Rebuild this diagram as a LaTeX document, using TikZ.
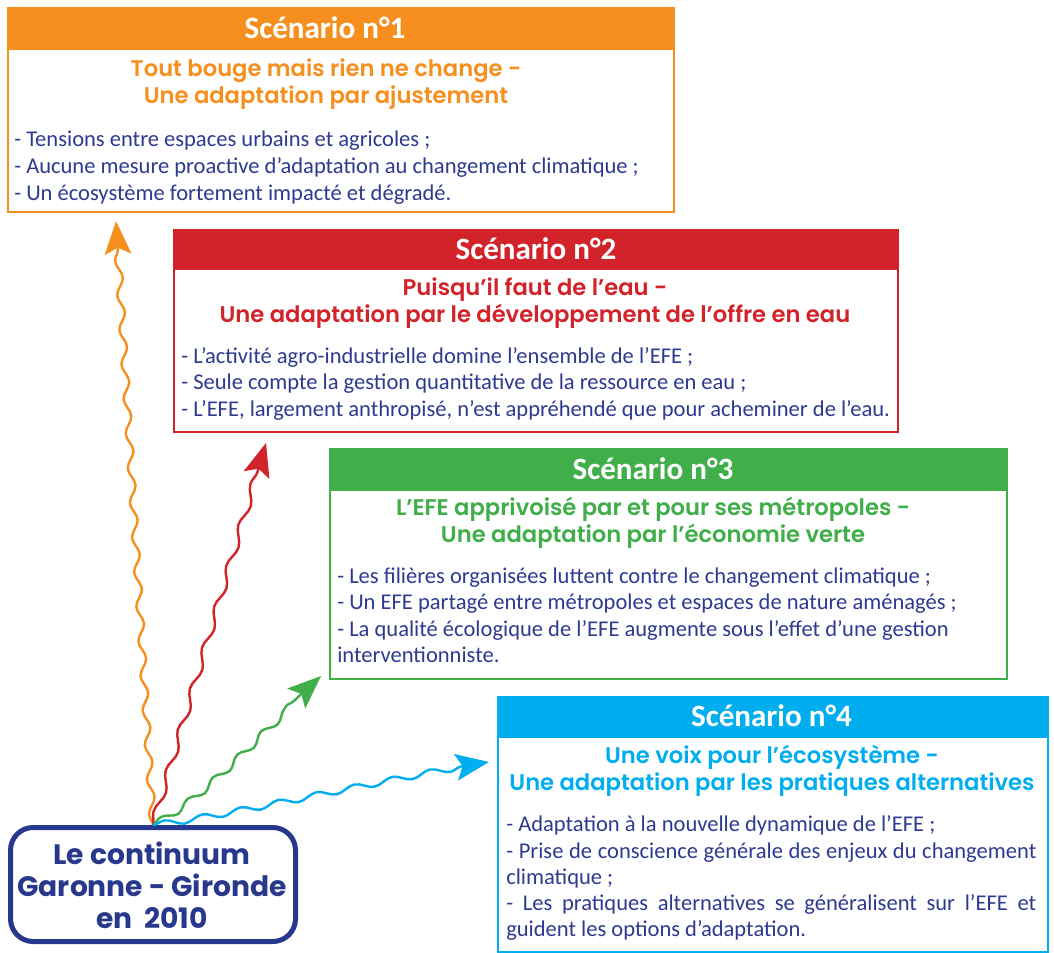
\documentclass[tikz,border=0pt]{standalone}
\usepackage{fontspec}
\setmainfont{Carlito}
\newfontfamily\bodyf{Carlito}
\newfontfamily\popf{Poppins}[BoldFont={Poppins SemiBold}]
\newfontfamily\popB{Poppins}
\usetikzlibrary{arrows.meta,decorations.pathmorphing}
\definecolor{corange}{RGB}{247,143,30}
\definecolor{cred}{RGB}{210,35,42}
\definecolor{cgreen}{RGB}{64,174,73}
\definecolor{cblue}{RGB}{0,174,239}
\definecolor{ctext}{RGB}{46,58,145}
\definecolor{cnavy}{RGB}{40,56,140}
\tikzset{
  frame/.style={draw=#1, line width=1.5pt, anchor=north west, inner sep=0pt, fill=white},
  hdr/.style={fill=#1, draw=#1, line width=1.5pt, anchor=north west, inner sep=0pt},
  ttl/.style={text=white, inner sep=0pt, font=\bfseries\fontsize{23.3}{26}\selectfont},
  sub/.style={text=#1, font=\popf\bfseries\fontsize{17}{20}\selectfont, anchor=base, inner sep=0pt},
  body/.style={text=ctext, font=\bodyf\fontsize{16.9}{20}\selectfont, anchor=base west, inner sep=0pt},
  stxt/.style={text=cnavy, font=\popB\bfseries\fontsize{21.1}{24}\selectfont, anchor=base, inner sep=0pt},
  wave/.style={draw=#1, line width=1.8pt, decorate,
    -{Stealth[length=25pt, width=20pt, inset=5pt]}},
}
\begin{document}
\begin{tikzpicture}[x=0.75pt,y=-0.75pt]
\useasboundingbox (0,0) rectangle (1054,953);

% ---------- Scenario 1
\node[frame=corange, minimum width=499.5pt, minimum height=153pt] (f1) at (7,7) {};
\node[hdr=corange, minimum width=499.5pt, minimum height=30.75pt] (h1) at (7,7) {};
\node[ttl] (tt1) at (325,27.5) {Scénario n°1};
\node[sub=corange] (s1a) at (326,76) {Tout bouge mais rien ne change -};
\node[sub=corange] (s1b) at (326,103) {Une adaptation par ajustement};
\node[body] (b1a) at (14,146) {- Tensions entre espaces urbains et agricoles ;};
\node[body] (b1b) at (14,173) {- Aucune mesure proactive d’adaptation au changement climatique ;};
\node[body] (b1c) at (14,200) {- Un écosystème fortement impacté et dégradé.};

% ---------- Scenario 2
\node[frame=cred, minimum width=543pt, minimum height=151.5pt] (f2) at (173,229) {};
\node[hdr=cred, minimum width=543pt, minimum height=29.25pt] (h2) at (173,229) {};
\node[ttl] (tt2) at (536,248.5) {Scénario n°2};
\node[sub=cred] (s2a) at (535,295) {Puisqu’il faut de l’eau -};
\node[sub=cred] (s2b) at (535,322) {Une adaptation par le développement de l’offre en eau};
\node[body] (b2a) at (181,363) {- L’activité agro-industrielle domine l’ensemble de l’EFE ;};
\node[body] (b2b) at (181,389.5) {- Seule compte la gestion quantitative de la ressource en eau ;};
\node[body] (b2c) at (181,416) {- L’EFE, largement anthropisé, n’est appréhendé que pour acheminer de l’eau.};

% ---------- Scenario 3
\node[frame=cgreen, minimum width=507.75pt, minimum height=172.5pt] (f3) at (329,448) {};
\node[hdr=cgreen, minimum width=507.75pt, minimum height=30.75pt] (h3) at (329,448) {};
\node[ttl] (tt3) at (653,468.5) {Scénario n°3};
\node[sub=cgreen] (s3a) at (653,515) {L’EFE apprivoisé par et pour ses métropoles -};
\node[sub=cgreen] (s3b) at (653,542) {Une adaptation par l’économie verte};
\node[body] (b3a) at (337,583) {- Les filières organisées luttent contre le changement climatique ;};
\node[body] (b3b) at (337,609.5) {- Un EFE partagé entre métropoles et espaces de nature aménagés ;};
\node[body] (b3c) at (337,636) {- La qualité écologique de l’EFE augmente sous l’effet d’une gestion};
\node[body] (b3d) at (337,662.5) {interventionniste.};

% ---------- Scenario 4
\node[frame=cblue, minimum width=412.5pt, minimum height=191.25pt] (f4) at (497,696) {};
\node[hdr=cblue, minimum width=412.5pt, minimum height=30pt] (h4) at (497,696) {};
\node[ttl] (tt4) at (771.5,716) {Scénario n°4};
\node[sub=cblue] (s4a) at (772,763) {Une voix pour l’écosystème -};
\node[sub=cblue] (s4b) at (772,790) {Une adaptation par les pratiques alternatives};
\node[body] (b4a) at (506,831.5) {- Adaptation à la nouvelle dynamique de l’EFE ;};
\node[body] (b4b) at (506,858) {\makebox[397.5pt][s]{- Prise de conscience générale des enjeux du changement}};
\node[body] (b4c) at (506,884) {climatique ;};
\node[body] (b4d) at (506,910) {\makebox[397.5pt][s]{- Les pratiques alternatives se généralisent sur l’EFE et}};
\node[body] (b4e) at (506,936.5) {guident les options d’adaptation.};

% ---------- Start box
\node[draw=cnavy, line width=3.75pt, rounded corners=17pt, fill=white,
  minimum width=213.75pt, minimum height=85.5pt, inner sep=0pt] (start) at (153,884.5) {};
\node[stxt] (st1) at (152,864) {Le continuum};
\node[stxt] (st2) at (152,896) {Garonne - Gironde};
\node[stxt] (st3) at (152,928) {en\ \ 2010};

% ---------- Arrows
\coordinate (t1) at (116,221);
\coordinate (t2) at (266,443);
\coordinate (t3) at (321,676);
\coordinate (t4) at (489,762);
\draw[wave=corange, decoration={snake, amplitude=2.5pt, segment length=26pt, post length=18pt}]
  (start.north) -- (t1);
\draw[wave=cred, decoration={snake, amplitude=2.5pt, segment length=32pt, post length=18pt}]
  (start.north) -- (t2);
\draw[wave=cgreen, decoration={snake, amplitude=2.5pt, segment length=25pt, post length=18pt}]
  (start.north) .. controls (200,800) and (260,730) .. (t3);
\draw[wave=cblue, decoration={snake, amplitude=2.3pt, segment length=29pt, post length=18pt}]
  (start.north) .. controls (230,815) and (400,775) .. (t4);
\end{tikzpicture}
\end{document}
